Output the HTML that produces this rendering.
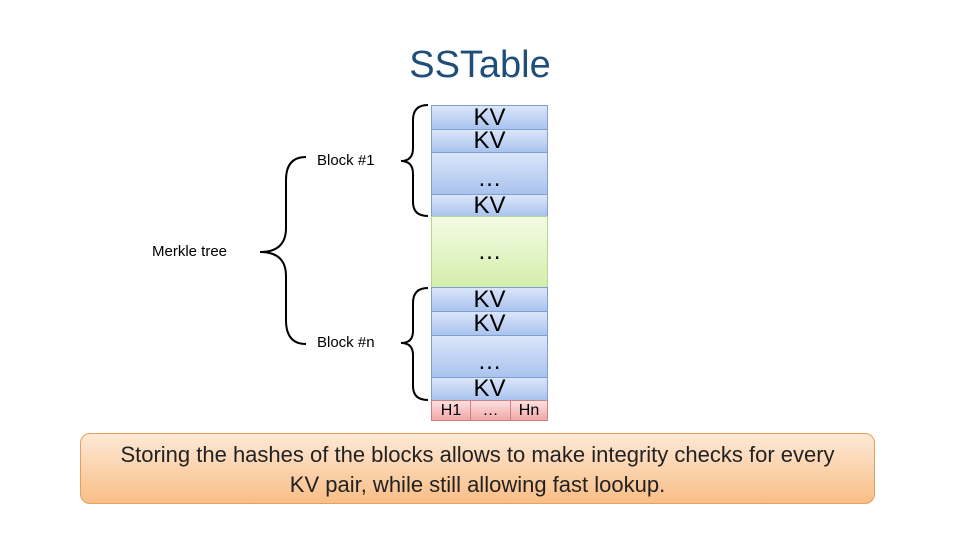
<!DOCTYPE html>
<html><head><style>
body{margin:0;width:960px;height:540px;background:#fff;position:relative;overflow:hidden;font-family:"Liberation Sans",sans-serif}
.t{position:absolute;left:0;width:960px;top:44px;text-align:center;font-size:38px;color:#1f4e79}
.c{position:absolute;left:431px;width:117px;box-sizing:border-box;border:1px solid #7f9fd0;background:linear-gradient(#dbe6fa,#a9c3ee);text-align:center;font-size:24px;color:#000;display:flex;align-items:center;justify-content:center}
.g{background:linear-gradient(#f4fbe6,#d3efaa);border-color:#b6d88c}
.h{position:absolute;top:400px;height:21px;box-sizing:border-box;border:1px solid #d08080;background:linear-gradient(#fbe0e0,#f2a8a8);font-size:16px;text-align:center;line-height:19px}
.l{position:absolute;font-size:15px}
.b{position:absolute;left:80px;top:433px;width:795px;height:71px;box-sizing:border-box;border:1px solid #e4a060;border-radius:10px;background:linear-gradient(#fde9d6,#f9be86);font-size:22px;text-align:center;line-height:30px;padding-top:6px;color:#222}
</style></head><body>
<div class="t">SSTable</div>
<div class="c" style="top:105px;height:25px">KV</div>
<div class="c" style="top:129px;height:24px">KV</div>
<div class="c" style="top:152px;height:43px;padding-top:10px">…</div>
<div class="c" style="top:194px;height:23px">KV</div>
<div class="c g" style="top:216px;height:72px">…</div>
<div class="c" style="top:287px;height:25px">KV</div>
<div class="c" style="top:311px;height:25px">KV</div>
<div class="c" style="top:335px;height:43px;padding-top:10px">…</div>
<div class="c" style="top:377px;height:24px">KV</div>
<div class="h" style="left:431px;width:40px">H1</div>
<div class="h" style="left:470px;width:41px">…</div>
<div class="h" style="left:510px;width:38px">Hn</div>
<div class="l" style="left:317px;top:152px">Block #1</div>
<div class="l" style="left:152px;top:243px">Merkle tree</div>
<div class="l" style="left:317px;top:334px">Block #n</div>
<svg width="960" height="540" style="position:absolute;left:0;top:0" fill="none" stroke="#000" stroke-width="2">
<path d="M306,157 Q286,157 286,180 L286,228 Q286,252 260,252 Q286,252 286,276 L286,320 Q286,344 306,344"/>
<path d="M428,105 Q413,105 413,120 L413,148 Q413,161 401,161 Q413,161 413,174 L413,202 Q413,216 428,216"/>
<path d="M428,288 Q413,288 413,303 L413,331 Q413,343 401,343 Q413,343 413,355 L413,386 Q413,400 428,400"/>
</svg>
<div class="b">Storing the hashes of the blocks allows to make integrity checks for every<br>KV pair, while still allowing fast lookup.</div>
</body></html>
